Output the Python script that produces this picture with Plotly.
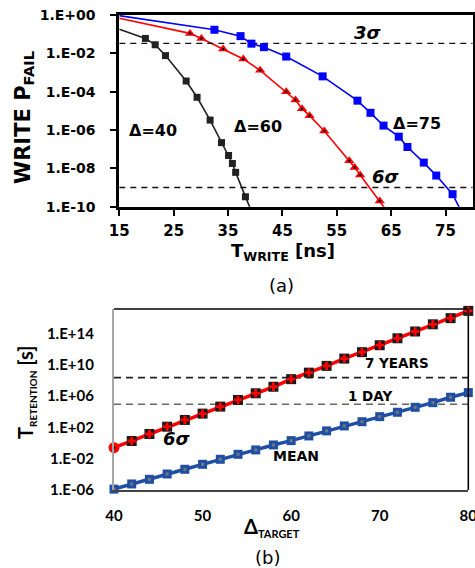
import plotly.graph_objects as go

W, H = 475, 568

# ---------------- data (a) ----------------
t_d40 = [19.8, 21.6, 23.5, 27.3, 29.3, 31.7, 33.8, 35.1, 35.8, 36.4, 38.2]
p_d40 = [6.0e-2, 2.8e-2, 7.6e-3, 3.6e-4, 5.1e-5, 3.3e-6, 2.2e-7, 4.7e-8, 1.8e-8, 6.2e-9, 3.3e-10]
t_d40_line = [15] + t_d40 + [39.6]
p_d40_line = [1.8e-1] + p_d40 + [3.5e-11]

t_d60 = [28.0, 30.1, 34.1, 37.8, 40.9, 45.7, 47.4, 48.6, 50.0, 52.7, 57.3, 58.3, 59.3, 62.9]
p_d60 = [1.1e-1, 6.0e-2, 1.7e-2, 5.1e-3, 1.3e-3, 1.0e-4, 3.7e-5, 1.3e-5, 5.6e-6, 8.9e-7,
         2.5e-8, 1.1e-8, 4.5e-9, 2.0e-10]
t_d60_line = [15] + t_d60 + [64.4]
p_d60_line = [6.8e-1] + p_d60 + [5.0e-11]

t_d75 = [32.5, 37.3, 39.3, 41.6, 45.7, 52.4, 58.8, 61.2, 63.6, 66.4, 68.0, 71.0, 73.3, 76.3]
p_d75 = [1.7e-1, 7.9e-2, 3.2e-2, 2.1e-2, 6.8e-3, 6.3e-4, 3.4e-5, 7.9e-6, 1.7e-6, 4.5e-7,
         1.3e-7, 2.0e-8, 4.2e-9, 4.5e-10]
t_d75_line = [15] + t_d75 + [78.0]
p_d75_line = [9.3e-1] + p_d75 + [5.0e-11]

p_3sigma = 3.3e-2
p_6sigma = 1.0e-9
a_xticks = [15, 25, 35, 45, 55, 65, 75]
a_yticks = [1e0, 1e-2, 1e-4, 1e-6, 1e-8, 1e-10]
a_yticktext = ["1.E+00", "1.E-02", "1.E-04", "1.E-06", "1.E-08", "1.E-10"]

# ---------------- data (b) ----------------
delta = [40, 42, 44, 46, 48, 50, 52, 54, 56, 58, 60, 62, 64, 66, 68, 70, 72, 74, 76, 78, 80]
ret_6sigma = [2.5e-1, 1.8e0, 1.4e1, 1.2e2, 8.7e2, 5.6e3, 4.4e4, 3.1e5, 2.2e6, 1.5e7, 1.4e8,
              9.5e8, 6.9e9, 5.9e10, 3.9e11, 3.0e12, 2.3e13, 1.7e14, 1.4e15, 8.5e15, 7.2e16]
ret_mean = [1.3e-6, 5.9e-6, 2.3e-5, 1.1e-4, 4.4e-4, 1.9e-3, 8.3e-3, 3.6e-2, 1.3e-1, 5.6e-1,
            2.0e0, 7.9e0, 3.5e1, 1.5e2, 5.2e2, 2.3e3, 8.3e3, 3.6e4, 1.4e5, 6.9e5, 2.7e6]
t_7years = 2.2e8
t_1day = 8.64e4
b_xticks = [40, 50, 60, 70, 80]
b_yticks = [1e-6, 1e-2, 1e2, 1e6, 1e10, 1e14]
b_yticktext = ["1.E-06", "1.E-02", "1.E+02", "1.E+06", "1.E+10", "1.E+14"]

# ---------------- figure ----------------
def px(x):
    return x / W

def py(y):
    return 1 - y / H

fig = go.Figure()

RED = "#ff0000"
BLUE = "#0000ff"
DBLUE = "#1f4fa5"

# (a) lines
for tl, pl, col in [(t_d40_line, p_d40_line, "#222222"),
                    (t_d60_line, p_d60_line, RED),
                    (t_d75_line, p_d75_line, BLUE)]:
    fig.add_trace(go.Scatter(x=tl, y=pl, mode="lines", line=dict(color=col, width=1.6),
                             xaxis="x", yaxis="y", hoverinfo="skip"))
for yv in [p_3sigma, p_6sigma]:
    fig.add_trace(go.Scatter(x=[15, 80], y=[yv, yv], mode="lines",
                             line=dict(color="#111111", width=1.4, dash="6px,5px"),
                             xaxis="x", yaxis="y", hoverinfo="skip"))
fig.add_trace(go.Scatter(x=t_d40, y=p_d40, mode="markers",
                         marker=dict(symbol="square", size=7, color="#222222"),
                         xaxis="x", yaxis="y", cliponaxis=False))
fig.add_trace(go.Scatter(x=t_d60, y=p_d60, mode="markers",
                         marker=dict(symbol="triangle-up", size=9, color=RED),
                         xaxis="x", yaxis="y", cliponaxis=False))
fig.add_trace(go.Scatter(x=t_d60, y=p_d60, mode="markers",
                         marker=dict(symbol="circle", size=2.5, color="#000000"),
                         xaxis="x", yaxis="y", cliponaxis=False))
fig.add_trace(go.Scatter(x=t_d75, y=p_d75, mode="markers",
                         marker=dict(symbol="square", size=8, color=BLUE),
                         xaxis="x", yaxis="y", cliponaxis=False))

# (b) lines
for yv, col in [(t_7years, "#222222"), (t_1day, "#666666")]:
    fig.add_trace(go.Scatter(x=[40, 80], y=[yv, yv], mode="lines",
                             line=dict(color=col, width=1.6, dash="7px,5px"),
                             xaxis="x2", yaxis="y2", hoverinfo="skip"))
fig.add_trace(go.Scatter(x=delta, y=ret_6sigma, mode="lines", line=dict(color=RED, width=3.5),
                         xaxis="x2", yaxis="y2"))
fig.add_trace(go.Scatter(x=delta, y=ret_mean, mode="lines", line=dict(color=DBLUE, width=3.5),
                         xaxis="x2", yaxis="y2"))
fig.add_trace(go.Scatter(x=delta[1:], y=ret_6sigma[1:], mode="markers",
                         marker=dict(symbol="square", size=10, color="#1a1a1a"),
                         xaxis="x2", yaxis="y2", cliponaxis=False))
fig.add_trace(go.Scatter(x=delta[1:], y=ret_6sigma[1:], mode="markers",
                         marker=dict(symbol="cross", size=7, color=RED),
                         xaxis="x2", yaxis="y2", cliponaxis=False))
fig.add_trace(go.Scatter(x=delta[:1], y=ret_6sigma[:1], mode="markers",
                         marker=dict(symbol="circle", size=11, color=RED),
                         xaxis="x2", yaxis="y2", cliponaxis=False))
fig.add_trace(go.Scatter(x=delta[:1], y=ret_6sigma[:1], mode="markers",
                         marker=dict(symbol="circle", size=3, color="#000000"),
                         xaxis="x2", yaxis="y2", cliponaxis=False))
fig.add_trace(go.Scatter(x=delta, y=ret_mean, mode="markers",
                         marker=dict(symbol="square", size=9, color=DBLUE),
                         xaxis="x2", yaxis="y2", cliponaxis=False))
fig.add_trace(go.Scatter(x=delta, y=ret_mean, mode="markers",
                         marker=dict(symbol="square", size=3, color="#777777"),
                         xaxis="x2", yaxis="y2", cliponaxis=False))

FA = "DejaVu Sans"
FB = "Lato"

fig.update_layout(
    width=W, height=H, margin=dict(l=0, r=0, t=0, b=0, autoexpand=False),
    paper_bgcolor="white", plot_bgcolor="white", showlegend=False,
    xaxis=dict(domain=[px(119.3), px(472.7)], range=[15, 80], anchor="y", automargin=False,
               tickvals=a_xticks, ticks="outside", ticklen=6, tickwidth=2, tickcolor="black",
               showline=True, linecolor="black", linewidth=2.8, mirror=True,
               showgrid=False, zeroline=False, ticklabelstandoff=2,
               tickfont=dict(family=FA, size=15, color="black", weight="bold")),
    yaxis=dict(domain=[py(206.7), py(15)], type="log", range=[-10, 0], anchor="x",
               automargin=False,
               tickvals=a_yticks, ticktext=a_yticktext, ticks="outside", ticklen=6,
               tickwidth=2, tickcolor="black",
               showline=True, linecolor="black", linewidth=2.8, mirror=True,
               showgrid=False, zeroline=False, ticklabelstandoff=12,
               tickfont=dict(family=FA, size=14, color="black", weight="bold")),
    xaxis2=dict(domain=[px(114), px(468.3)], range=[40, 80], anchor="y2", automargin=False,
                tickvals=b_xticks, ticks="", showline=True, linecolor="#444444", linewidth=2,
                showgrid=False, zeroline=False, ticklabelstandoff=11,
                ticklabeloverflow="allow",
                tickfont=dict(family=FB, size=15, color="black", weight="bold")),
    yaxis2=dict(domain=[py(490), py(309)], type="log", range=[-6, 17.1], anchor="x2",
                automargin=False,
                tickvals=b_yticks, ticktext=b_yticktext, ticks="",
                showline=True, linecolor="#a6a6a6", linewidth=2.2,
                showgrid=False, zeroline=False, ticklabelstandoff=15,
                tickfont=dict(family=FB, size=15, color="black", weight="bold")),
)

# top & right frame of (b)
fig.add_shape(type="line", xref="x2 domain", yref="y2 domain", x0=0, x1=1, y0=1, y1=1,
              line=dict(color="black", width=1.6))
fig.add_shape(type="line", xref="x2 domain", yref="y2 domain", x0=1, x1=1, y0=0, y1=1,
              line=dict(color="black", width=1.6))

def ann(text, x, y, size, family=FA, bold=True, italic=False, angle=0):
    fig.add_annotation(text=text, x=px(x), y=py(y), xref="paper", yref="paper",
                       xanchor="center", yanchor="middle", showarrow=False, textangle=angle,
                       font=dict(family=family, size=size, color="black",
                                 weight="bold" if bold else "normal",
                                 style="italic" if italic else "normal"))

ann("Δ=40", 152.5, 130, 16)
ann("Δ=60", 258, 127, 16)
ann("Δ=75", 417, 124, 16)
ann("3σ", 367.5, 33, 18, italic=True)
ann("6σ", 385.5, 177, 18, italic=True)
ann("WRITE P<sub>FAIL</sub>", 24, 118, 21, angle=-90)
ann("T<sub>WRITE</sub> [ns]", 283, 252, 18)
ann("(a)", 281, 285, 18, bold=False)

ann("7 YEARS", 397, 363, 13.5)
ann("1 DAY", 370, 396, 13.5)
ann("6σ", 176.5, 438, 18, italic=True)
ann("MEAN", 295.5, 456, 14)
ann("T<sub><span style='font-size:10px'>RETENTION</span></sub> [s]", 26, 393, 20, family=FB, angle=-90)
ann("Δ<sub><span style='font-size:11px'>TARGET</span></sub>", 272, 527, 20, family=FB)
ann("(b)", 267, 557, 18, bold=False)

fig.write_html("out.html", config={"displayModeBar": False},
               post_script="document.body.style.margin='0px';document.body.style.overflow='hidden';")
